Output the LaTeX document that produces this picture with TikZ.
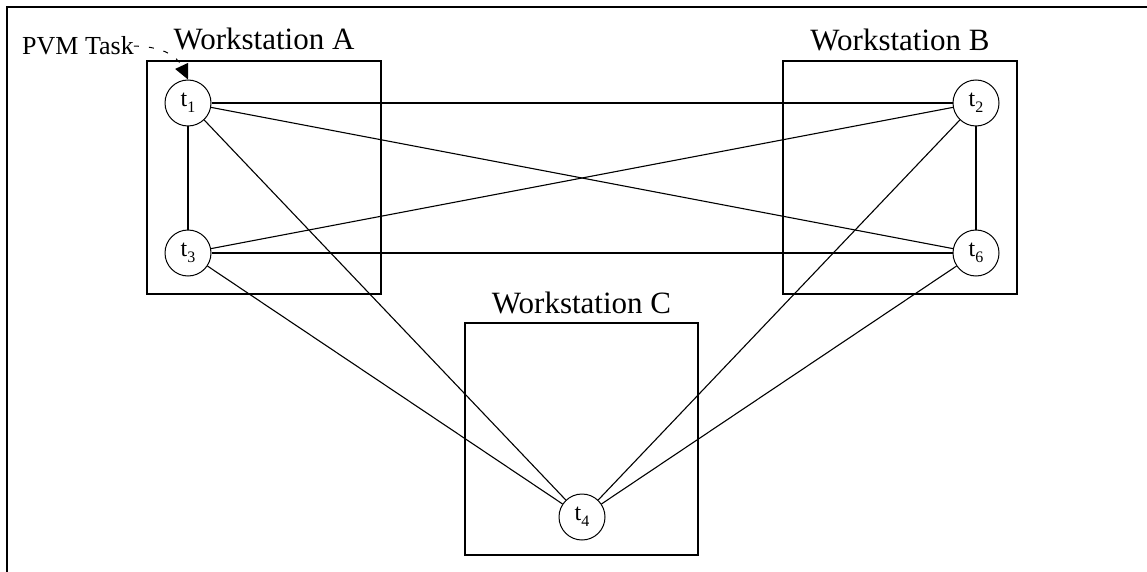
\documentclass[tikz,border=0pt]{standalone}
\usepackage{fontspec}
\setmainfont{Liberation Serif}
\usetikzlibrary{arrows.meta}
% task label: letter t with a lowered index
\newcommand{\tasklabel}[1]{t\raisebox{-6pt}{\fontsize{16}{16}\selectfont #1}}
\begin{document}
\begin{tikzpicture}[x=1pt,y=-1pt,
  station/.style={draw, line width=1.3pt, inner sep=0pt},
  task/.style={draw, circle, line width=1pt, minimum size=46pt, inner sep=0pt,
    font=\fontsize{24}{24}\selectfont},
  title/.style={font=\fontsize{31}{31}\selectfont, anchor=base, inner sep=0pt},
  link/.style={line width=1.1pt}]
\useasboundingbox (0,0) rectangle (1147,572);
% outer frame (left and top edges)
\draw[line width=1.8pt] (7,572) -- (7,7) -- (1147,7);

% workstations
\node[station, minimum width=234pt, minimum height=233pt] (wa) at (264,177.5) {};
\node[station, minimum width=234pt, minimum height=233pt] (wb) at (900,177.5) {};
\node[station, minimum width=233pt, minimum height=232pt] (wc) at (581.5,439) {};
\node[title] (la) at (264,50) {Workstation A};
\node[title] (lb) at (900,51) {Workstation B};
\node[title] (lc) at (581.5,313) {Workstation C};

% tasks
\node[task] (t1) at (188,103) {\tasklabel{1}};
\node[task] (t2) at (976,103) {\tasklabel{2}};
\node[task] (t3) at (188,253) {\tasklabel{3}};
\node[task] (t6) at (976,253) {\tasklabel{6}};
\node[task] (t4) at (582,517) {\tasklabel{4}};

% message links
\draw[link] (t1) -- (t2);
\draw[link] (t1) -- (t3);
\draw[link] (t1) -- (t6);
\draw[link] (t1) -- (t4);
\draw[link] (t3) -- (t2);
\draw[link] (t3) -- (t6);
\draw[link] (t3) -- (t4);
\draw[link] (t2) -- (t6);
\draw[link] (t2) -- (t4);
\draw[link] (t6) -- (t4);

% callout
\node[font=\fontsize{26}{26}\selectfont, anchor=base west, inner sep=0pt] (pvm) at (22,55) {PVM Task};
\draw[line width=1pt, dash pattern=on 5pt off 10pt,
  -{Triangle[length=15pt,width=14pt]}]
  (pvm.east) .. controls (158,46) and (176,54) .. (t1.north);
\end{tikzpicture}
\end{document}
